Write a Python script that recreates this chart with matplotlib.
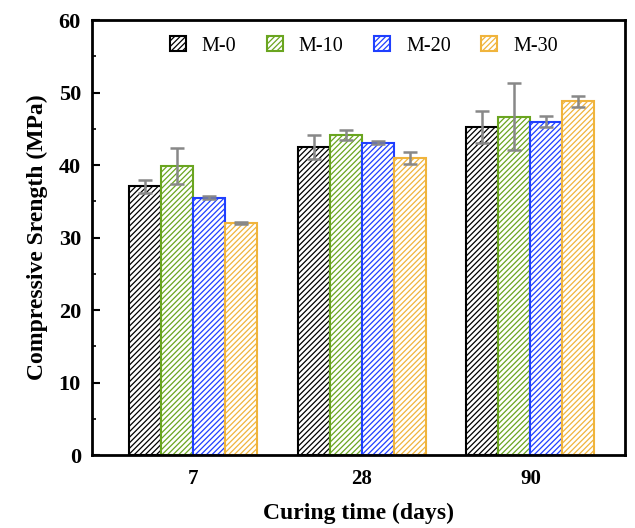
import numpy as np
import matplotlib.pyplot as plt
from matplotlib.ticker import MultipleLocator

plt.rcParams["font.family"] = ["Liberation Serif", "DejaVu Serif"]
plt.rcParams["font.weight"] = "bold"
plt.rcParams["hatch.linewidth"] = 0.9

days = ["7", "28", "90"]
series = ["M-0", "M-10", "M-20", "M-30"]
means = {
    "M-0": [37.1, 42.5, 45.3],
    "M-10": [39.9, 44.1, 46.7],
    "M-20": [35.5, 43.1, 46.0],
    "M-30": [32.0, 41.0, 48.8],
}
errs = {
    "M-0": [0.9, 1.7, 2.2],
    "M-10": [2.5, 0.7, 4.6],
    "M-20": [0.2, 0.2, 0.8],
    "M-30": [0.1, 0.8, 0.75],
}
colors = {"M-0": "#000000", "M-10": "#6aa520", "M-20": "#1f3fff", "M-30": "#f0b43c"}

fig = plt.figure(figsize=(6.35, 5.28), dpi=100)
ax = fig.add_axes([0.145, 0.138, 0.839, 0.824])

x = np.arange(len(days))
width = 0.19
for i, s in enumerate(series):
    offset = (i - 1.5) * width
    ax.bar(x + offset, means[s], width=width, facecolor="white", edgecolor=colors[s],
           hatch="//////", linewidth=1.5, label=s,
           yerr=errs[s], capsize=5,
           error_kw=dict(ecolor="#888888", elinewidth=1.8, capthick=1.8))

ax.set_xlim(-0.6, 2.56)
ax.set_ylim(0, 60)
ax.set_xticks(x)
ax.set_xticklabels(days)
ax.yaxis.set_major_locator(MultipleLocator(10))
ax.yaxis.set_minor_locator(MultipleLocator(5))
ax.tick_params(axis="x", length=0, labelsize=15, pad=10)
ax.tick_params(axis="y", which="major", direction="in", length=6, width=1.5,
               labelsize=16, pad=8)
ax.tick_params(axis="y", which="minor", direction="in", length=3, width=1.2)
for sp in ax.spines.values():
    sp.set_linewidth(2)

ax.set_xlabel("Curing time (days)", fontsize=17, fontweight="bold", labelpad=10)
ax.set_ylabel("Compressive Srength (MPa)", fontsize=17, fontweight="bold", labelpad=8)

leg = ax.legend(loc="upper center", ncol=4, frameon=False, fontsize=14.5,
                handlelength=0.8, handleheight=0.8, columnspacing=1.5,
                handletextpad=0.8, bbox_to_anchor=(0.51, 1.005))
for t in leg.get_texts():
    t.set_fontweight("normal")

fig.savefig("out.png", dpi=100)
